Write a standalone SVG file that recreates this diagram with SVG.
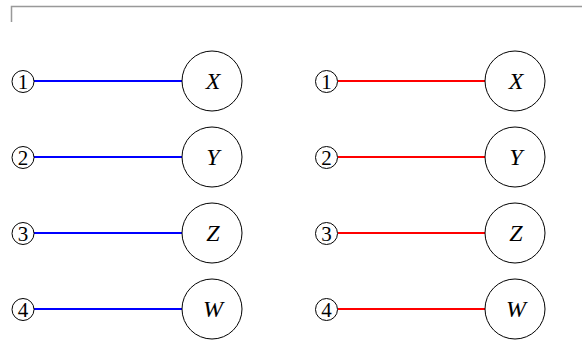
<svg xmlns="http://www.w3.org/2000/svg" width="582" height="340" viewBox="0 0 582 340">
<style>
.frame{fill:none;stroke:#999;stroke-width:1.5}
.sc{fill:#fff;stroke:#000;stroke-width:1}
.bc{fill:#fff;stroke:#000;stroke-width:1}
text{font-family:'Liberation Serif','DejaVu Serif','Times New Roman',serif}
.num{font-size:21px;text-anchor:middle}
.lab{font-style:italic;font-size:24px;text-anchor:middle}
.blue{stroke:#0000ff;stroke-width:1.8}
.red{stroke:#ff0000;stroke-width:1.8}
</style>
<path class="frame" d="M11.5 22 V6.5 H582"/>
<g id="connectors">
<line class="blue" x1="34" y1="81" x2="182" y2="81"/>
<line class="blue" x1="34" y1="157" x2="182" y2="157"/>
<line class="blue" x1="34" y1="233" x2="182" y2="233"/>
<line class="blue" x1="34" y1="309" x2="182" y2="309"/>
<line class="red" x1="338" y1="81" x2="485" y2="81"/>
<line class="red" x1="338" y1="157" x2="485" y2="157"/>
<line class="red" x1="338" y1="233" x2="485" y2="233"/>
<line class="red" x1="338" y1="309" x2="485" y2="309"/>
</g>
<g id="l1"><circle class="sc" cx="23" cy="81.5" r="11"/><text class="num" x="23" y="88.5">1</text></g>
<g id="l2"><circle class="sc" cx="23" cy="157.5" r="11"/><text class="num" x="23" y="164.5">2</text></g>
<g id="l3"><circle class="sc" cx="23" cy="233.5" r="11"/><text class="num" x="23" y="240.5">3</text></g>
<g id="l4"><circle class="sc" cx="23" cy="309.5" r="11"/><text class="num" x="23" y="316.5">4</text></g>
<g id="lX"><circle class="bc" cx="212" cy="81" r="30"/><text class="lab" x="213" y="89">X</text></g>
<g id="lY"><circle class="bc" cx="212" cy="157" r="30"/><text class="lab" x="213" y="165">Y</text></g>
<g id="lZ"><circle class="bc" cx="212" cy="233" r="30"/><text class="lab" x="213" y="241">Z</text></g>
<g id="lW"><circle class="bc" cx="212" cy="309" r="30"/><text class="lab" x="213" y="317">W</text></g>
<g id="r1"><circle class="sc" cx="326.5" cy="81.5" r="11"/><text class="num" x="326.5" y="88.5">1</text></g>
<g id="r2"><circle class="sc" cx="326.5" cy="157.5" r="11"/><text class="num" x="326.5" y="164.5">2</text></g>
<g id="r3"><circle class="sc" cx="326.5" cy="233.5" r="11"/><text class="num" x="326.5" y="240.5">3</text></g>
<g id="r4"><circle class="sc" cx="326.5" cy="309.5" r="11"/><text class="num" x="326.5" y="316.5">4</text></g>
<g id="rX"><circle class="bc" cx="515" cy="81" r="30"/><text class="lab" x="516" y="89">X</text></g>
<g id="rY"><circle class="bc" cx="515" cy="157" r="30"/><text class="lab" x="516" y="165">Y</text></g>
<g id="rZ"><circle class="bc" cx="515" cy="233" r="30"/><text class="lab" x="516" y="241">Z</text></g>
<g id="rW"><circle class="bc" cx="515" cy="309" r="30"/><text class="lab" x="516" y="317">W</text></g>
</svg>
